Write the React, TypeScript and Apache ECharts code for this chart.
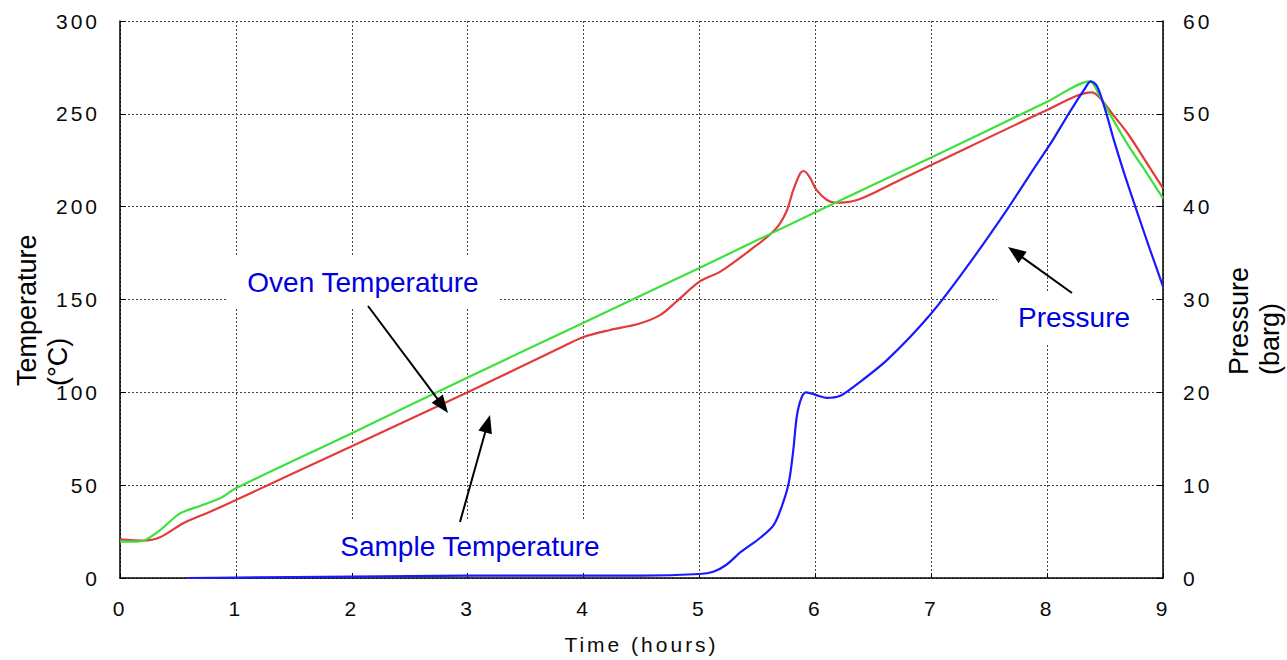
import React, { useEffect, useRef } from "react";
import * as echarts from "echarts";

// ---- data ----
const ovenTime = [0, 0.1, 0.2, 0.345, 0.518, 0.69, 0.863, 1.0, 2.0, 3.0, 4.0, 5.0, 6.0, 7.0, 8.0, 8.37, 8.45, 8.55, 8.7, 8.85, 9.0];
const ovenTemp = [19.6, 19.6, 20.1, 25.8, 34.8, 38.8, 42.9, 48.3, 78, 108, 137.5, 167, 197, 226.5, 256.5, 267.5, 260, 249, 233, 219, 204.5];

const sampleTime = [0, 0.2, 0.345, 0.546, 0.777, 1.0, 2.0, 3.0, 3.8, 4.0, 4.23, 4.47, 4.66, 4.8, 5.0, 5.18, 5.44, 5.65, 5.75, 5.81, 5.87, 5.9, 5.95, 6.01, 6.1, 6.18, 6.36, 6.59, 6.73, 7.0, 8.0, 8.385, 8.45, 8.55, 8.7, 8.85, 9.0];
const sampleTemp = [20.8, 20.1, 21.9, 29.5, 35.7, 42, 71, 100, 124, 129.8, 133.6, 136.8, 141.6, 148.8, 159.6, 165, 176.7, 187.4, 197.3, 209, 218, 219.2, 216, 209, 203.6, 202.1, 203.6, 210, 214.4, 222.4, 252, 261.6, 259, 251, 239, 224.5, 210];

const pressureTime = [0.58, 1, 2, 3, 3.8, 4.5, 5.0, 5.12, 5.23, 5.36, 5.52, 5.64, 5.71, 5.77, 5.81, 5.84, 5.88, 5.92, 6.01, 6.1, 6.21, 6.33, 6.62, 7.0, 7.33, 7.65, 7.88, 8.05, 8.2, 8.32, 8.376, 8.43, 8.5, 8.58, 8.67, 8.78, 8.89, 9.0];
const pressureVal = [0, 0.05, 0.15, 0.25, 0.25, 0.25, 0.43, 0.68, 1.4, 2.83, 4.28, 5.7, 7.7, 10.2, 13.8, 17.4, 19.4, 20.0, 19.7, 19.4, 19.6, 20.6, 23.5, 28.5, 33.9, 39.6, 44, 47.2, 50.3, 52.6, 53.5, 53.0, 50.5, 47.0, 43.4, 39.3, 35.3, 31.4];

const xTicks = { min: 0, max: 9, interval: 1 };
const tempTicks = { min: 0, max: 300, interval: 50 };
const pressTicks = { min: 0, max: 60, interval: 10 };

const zip = (a: number[], b: number[]) => a.map((v, i) => [v, b[i]]);

const FONT = "'Liberation Sans', Arial, Helvetica, sans-serif";
const TICK_COLOR = "#0a0a0a";
const LABEL_BLUE = "#0000e0";

function arrow(x1: number, y1: number, x2: number, y2: number) {
  const dx = x2 - x1;
  const dy = y2 - y1;
  const len = Math.sqrt(dx * dx + dy * dy);
  const ux = dx / len;
  const uy = dy / len;
  const L = 18;
  const W = 7;
  const bx = x2 - ux * L;
  const by = y2 - uy * L;
  const nx = -uy;
  const ny = ux;
  return [
    {
      type: "line",
      shape: { x1, y1, x2: bx + ux * 2, y2: by + uy * 2 },
      style: { stroke: "#000", lineWidth: 2 },
      z: 100,
    },
    {
      type: "polygon",
      shape: {
        points: [
          [x2, y2],
          [bx + nx * W, by + ny * W],
          [bx - nx * W, by - ny * W],
        ],
      },
      style: { fill: "#000" },
      z: 100,
    },
  ];
}

function label(text: string, x: number, y: number) {
  return {
    type: "text",
    x,
    y,
    z: 90,
    style: {
      text,
      fill: LABEL_BLUE,
      fontSize: 28,
      fontFamily: FONT,
      align: "center",
      verticalAlign: "middle",
      backgroundColor: "#ffffff",
      padding: [12, 21],
    },
  };
}

function axisName(text: string, x: number, y: number) {
  return {
    type: "text",
    x,
    y,
    rotation: Math.PI / 2,
    style: {
      text,
      fill: "#000000",
      fontSize: 27,
      fontFamily: FONT,
      align: "left",
      verticalAlign: "middle",
      lineHeight: 31,
    },
  };
}

export default function App() {
  const ref = useRef<HTMLDivElement>(null);

  useEffect(() => {
    if (!ref.current) return;
    const chart = echarts.init(ref.current, null, { renderer: "svg" });

    const axisLabelStyle = {
      fontSize: 21,
      fontFamily: FONT,
      color: TICK_COLOR,
      margin: 20,
    };
    const gridLine = {
      show: true,
      lineStyle: { color: "#444", width: 1, type: [2, 2] as any },
    };
    const lineSeries = (name: string, yAxisIndex: number, data: number[][], color: string) => ({
      name,
      type: "line",
      yAxisIndex,
      data,
      showSymbol: false,
      smooth: 0.3,
      lineStyle: { color, width: 2.2 },
      itemStyle: { color },
    });

    chart.setOption({
      animation: false,
      backgroundColor: "#ffffff",
      grid: { left: 120, right: 124, top: 21, bottom: 82, containLabel: false },
      xAxis: {
        type: "value",
        ...xTicks,
        name: "Time (hours)",
        nameLocation: "middle",
        nameGap: 56,
        nameTextStyle: { fontSize: 21, fontFamily: FONT, color: TICK_COLOR },
        axisLine: { show: true, onZero: false, lineStyle: { color: "#000", width: 1.5 } },
        axisTick: { show: true, inside: true, length: 5, lineStyle: { color: "#000" } },
        axisLabel: axisLabelStyle,
        splitLine: gridLine,
      },
      yAxis: [
        {
          type: "value",
          position: "left",
          ...tempTicks,
          axisLine: { show: true, onZero: false, lineStyle: { color: "#000", width: 1.5 } },
          axisTick: { show: true, inside: true, length: 6, lineStyle: { color: "#000" } },
          axisLabel: axisLabelStyle,
          splitLine: gridLine,
        },
        {
          type: "value",
          position: "right",
          ...pressTicks,
          axisLine: { show: true, onZero: false, lineStyle: { color: "#000", width: 1.5 } },
          axisTick: { show: true, inside: true, length: 6, lineStyle: { color: "#000" } },
          axisLabel: axisLabelStyle,
          splitLine: { show: false },
        },
      ],
      series: [
        lineSeries("Sample Temperature", 0, zip(sampleTime, sampleTemp), "#e23b3b"),
        lineSeries("Oven Temperature", 0, zip(ovenTime, ovenTemp), "#3de03d"),
        lineSeries("Pressure", 1, zip(pressureTime, pressureVal), "#1a1aff"),
      ],
      graphic: [
        label("Oven Temperature", 363, 282.5),
        label("Sample Temperature", 470, 546),
        label("Pressure", 1074, 317.5),
        ...arrow(368, 306, 448, 413),
        ...arrow(460, 522, 490, 415),
        ...arrow(1072, 293, 1008, 247),
        axisName("Temperature\n(°C)", 42, 386),
        axisName("Pressure\n(barg)", 1254, 375),
      ],
    });

    return () => {
      chart.dispose();
    };
  }, []);

  return (
    <>
      <style>{`body{margin:0;} text[fill="${TICK_COLOR}"]{letter-spacing:3px;}`}</style>
      <div ref={ref} style={{ width: 1287, height: 660 }} />
    </>
  );
}
